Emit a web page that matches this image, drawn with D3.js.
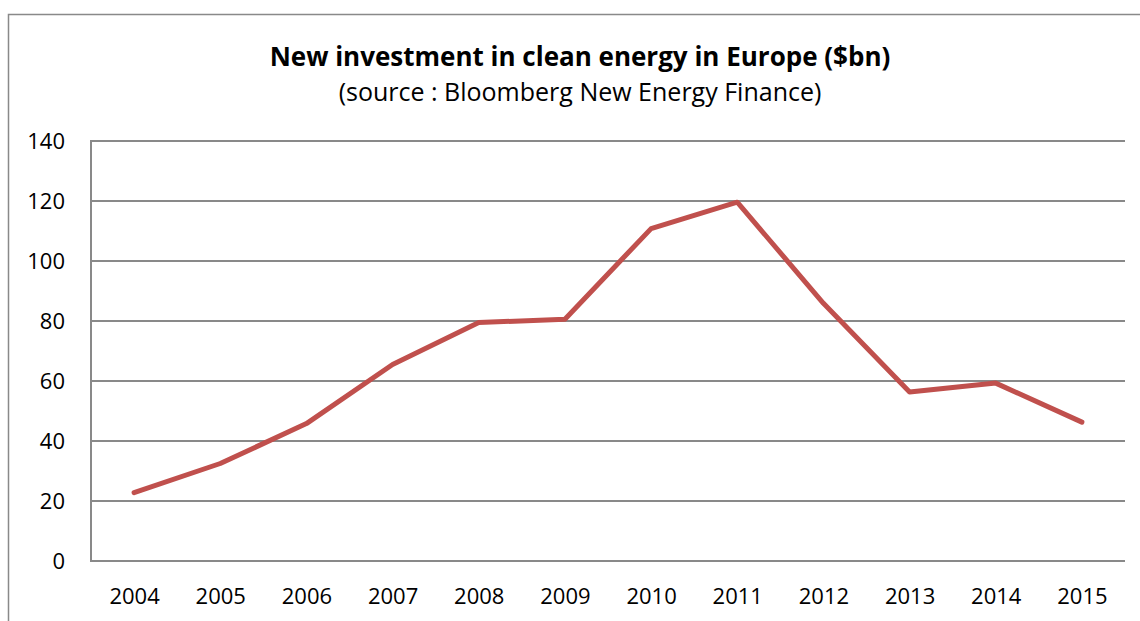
<!DOCTYPE html>
<html>
<head>
<meta charset="utf-8">
<script src="https://cdn.jsdelivr.net/npm/d3@7"></script>
<style>
  body { margin: 0; background: #fff; }
  text { font-family: "Open Sans", "Noto Sans", sans-serif; fill: #000; }
</style>
</head>
<body>
<div id="chart"></div>
<script>
// data
const years = ["2004", "2005", "2006", "2007", "2008", "2009", "2010", "2011", "2012", "2013", "2014", "2015"];
const investment = [22.8, 32.5, 45.8, 65.5, 79.5, 80.6, 110.8, 119.6, 85.9, 56.3, 59.3, 46.3];
const yTicks = [0, 20, 40, 60, 80, 100, 120, 140];

const chartTitle = "New investment in clean energy in Europe ($bn)";
const chartSubtitle = "(source : Bloomberg New Energy Finance)";

const width = 1140;
const height = 621;
const plot = { left: 91, right: 1125, top: 141, bottom: 561 };

const svg = d3.select("#chart")
  .append("svg")
  .attr("width", width)
  .attr("height", height);

// outer chart frame (runs past the window on the right and bottom)
svg.append("rect")
  .attr("x", 8.5)
  .attr("y", 14.5)
  .attr("width", 1150)
  .attr("height", 640)
  .style("fill", "#fff")
  .style("stroke", "#898989")
  .style("stroke-width", 1.5);

const x = d3.scalePoint()
  .domain(years)
  .range([plot.left, plot.right])
  .padding(0.5);

const y = d3.scaleLinear()
  .domain([0, 140])
  .range([plot.bottom, plot.top]);

// gridlines
svg.append("g")
  .selectAll("line")
  .data(yTicks)
  .enter()
  .append("line")
  .attr("x1", plot.left)
  .attr("x2", plot.right)
  .attr("y1", d => y(d))
  .attr("y2", d => y(d))
  .style("stroke", "#898989")
  .style("stroke-width", 2);

// left axis line
svg.append("line")
  .attr("x1", plot.left)
  .attr("x2", plot.left)
  .attr("y1", y(140) - 1)
  .attr("y2", y(0) + 1)
  .style("stroke", "#898989")
  .style("stroke-width", 2);

// axis labels
const yAxis = svg.append("g")
  .attr("transform", `translate(${plot.left},0)`)
  .call(d3.axisLeft(y).tickValues(yTicks).tickSize(0).tickPadding(26));
yAxis.select(".domain").remove();

const xAxis = svg.append("g")
  .attr("transform", `translate(0,${plot.bottom})`)
  .call(d3.axisBottom(x).tickSize(0).tickPadding(27));
xAxis.select(".domain").remove();

svg.selectAll(".tick text")
  .style("font-family", "'Open Sans', 'Noto Sans', sans-serif")
  .style("font-size", "22px")
  .style("fill", "#000");

// the series line
const line = d3.line()
  .x((d, i) => x(years[i]))
  .y(d => y(d));

svg.append("path")
  .datum(investment)
  .attr("d", line)
  .style("fill", "none")
  .style("stroke", "#C0504D")
  .style("stroke-width", 5)
  .style("stroke-linejoin", "round")
  .style("stroke-linecap", "round");

// title
svg.append("text")
  .attr("x", 580)
  .attr("y", 66)
  .attr("text-anchor", "middle")
  .style("font-size", "26px")
  .style("font-weight", "bold")
  .text(chartTitle);

svg.append("text")
  .attr("x", 580)
  .attr("y", 101)
  .attr("text-anchor", "middle")
  .style("font-size", "25px")
  .text(chartSubtitle);
</script>
</body>
</html>
